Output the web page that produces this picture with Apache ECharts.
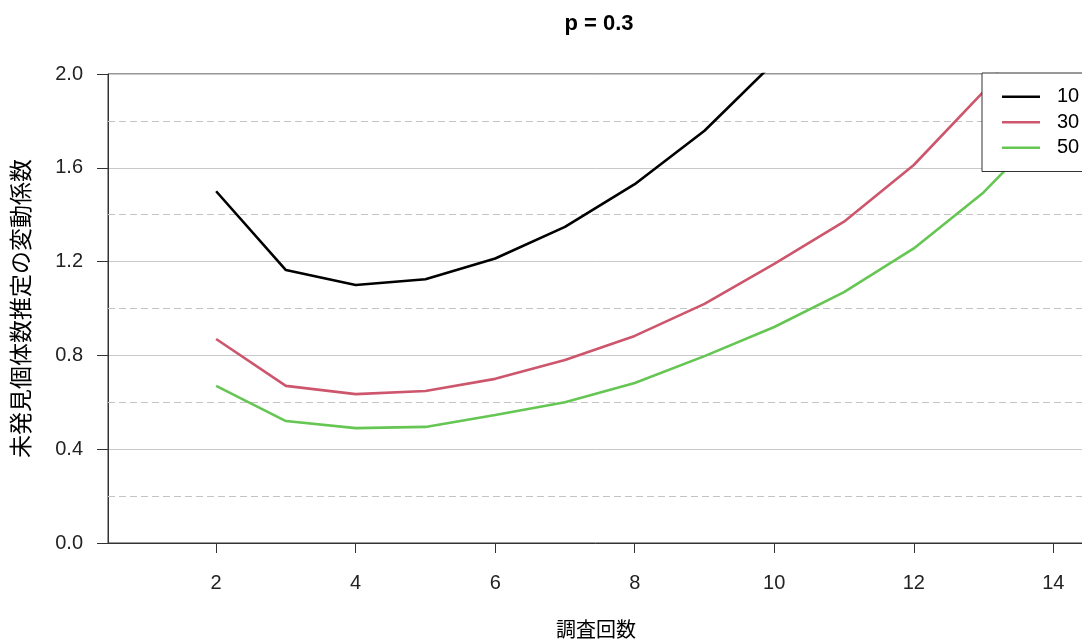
<!DOCTYPE html>
<html>
<head>
<meta charset="utf-8">
<script src="https://cdn.jsdelivr.net/npm/echarts@6/dist/echarts.min.js"></script>
<style>
  html, body { margin: 0; padding: 0; background: #fff; }
  #chart { width: 1082px; height: 643px; }
</style>
</head>
<body>
<div id="chart"></div>
<script>
// 調査回数 (x) ごとの値
const surveyCounts = [2, 3, 4, 5, 6, 7, 8, 9, 10, 11, 12, 13, 14];
const cv10 = [1.50, 1.164, 1.10, 1.125, 1.213, 1.348, 1.53, 1.758, 2.05];
const cv30 = [0.87, 0.67, 0.635, 0.648, 0.70, 0.78, 0.883, 1.02, 1.19, 1.37, 1.612, 1.925, 2.35];
const cv50 = [0.67, 0.52, 0.49, 0.495, 0.546, 0.60, 0.682, 0.797, 0.921, 1.07, 1.256, 1.495, 1.80];
const seriesNames = ['10', '30', '50'];
const xTicks = [2, 4, 6, 8, 10, 12, 14];
const dashedLevels = [0.2, 0.6, 1.0, 1.4, 1.8];

const pairs = vals => vals.map((v, i) => [surveyCounts[i], v]);

const chart = echarts.init(document.getElementById('chart'));
const font = '"Liberation Sans", Arial, "Noto Sans CJK JP", sans-serif';
const lineColors = ['#000000', '#CD566D', '#65C653'];

const mkSeries = (name, vals, idx) => ({
  name: name,
  type: 'line',
  data: pairs(vals),
  symbol: 'none',
  clip: true,
  lineStyle: { color: lineColors[idx], width: 2.6 },
  itemStyle: { color: lineColors[idx] },
  z: 3
});

const series = [mkSeries(seriesNames[0], cv10, 0), mkSeries(seriesNames[1], cv30, 1), mkSeries(seriesNames[2], cv50, 2)];
// 破線の補助線
series[0].markLine = {
  silent: true,
  symbol: 'none',
  label: { show: false },
  lineStyle: { color: '#c4c4c4', type: [7, 4], width: 1 },
  data: dashedLevels.map(v => ({ yAxis: v })),
  z: 1
};

chart.setOption({
  animation: false,
  backgroundColor: '#fff',
  graphic: [{
    type: 'text',
    x: 599, y: 24,
    style: {
      text: 'p = 0.3',
      font: 'bold 22px "Liberation Sans", Arial, sans-serif',
      fill: '#000',
      textAlign: 'center',
      textVerticalAlign: 'middle'
    }
  }],
  grid: {
    left: 108, top: 74, bottom: 100, right: -2,
    outerBoundsMode: 'none',
    containLabel: false,
    show: true, borderColor: '#333', borderWidth: 1
  },
  legend: {
    data: seriesNames.map(n => ({ name: n, icon: 'rect' })),
    orient: 'vertical',
    left: 982, top: 73,
    padding: [11, 60, 11, 20],
    itemGap: 0,
    itemWidth: 38, itemHeight: 2.6,
    backgroundColor: '#fff',
    borderColor: '#333', borderWidth: 1,
    textStyle: { fontSize: 20, lineHeight: 25.5, color: '#000', fontFamily: font, padding: [0, 0, 0, 12] }
  },
  xAxis: {
    type: 'value',
    min: 0.45, max: 14.44,
    name: '調査回数',
    nameLocation: 'middle',
    nameGap: 78,
    nameTextStyle: { fontSize: 20, color: '#000', fontFamily: font },
    axisLine: { show: true, lineStyle: { color: '#333' } },
    axisTick: { show: true, length: 10, customValues: xTicks, lineStyle: { color: '#333' } },
    axisLabel: { customValues: xTicks, margin: 30, fontSize: 20, color: '#222', fontFamily: font },
    splitLine: { show: false }
  },
  yAxis: {
    type: 'value',
    min: 0, max: 2, interval: 0.4,
    name: '未発見個体数推定の変動係数',
    nameLocation: 'middle',
    nameGap: 74,
    nameTextStyle: { fontSize: 23, color: '#000', fontFamily: font },
    axisLine: { show: true, lineStyle: { color: '#333' } },
    axisTick: { show: true, length: 11, lineStyle: { color: '#333' } },
    axisLabel: { margin: 25, fontSize: 20, color: '#222', fontFamily: font, formatter: v => v.toFixed(1) },
    splitLine: { show: true, lineStyle: { color: '#c8c8c8', width: 1 } }
  },
  series: series
});
</script>
</body>
</html>
